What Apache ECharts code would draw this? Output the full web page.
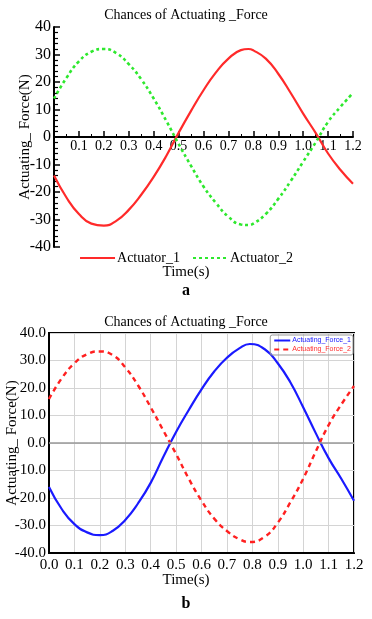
<!DOCTYPE html>
<html><head><meta charset="utf-8">
<script src="https://cdn.jsdelivr.net/npm/echarts@6/dist/echarts.min.js"></script>
<style>html,body{margin:0;padding:0;background:#fff}#c{width:372px;height:619px}</style>
</head><body><div id="c"></div>
<script>
// ---- data ----
var timesA = [0,0.05,0.10,0.15,0.20,0.25,0.30,0.35,0.40,0.45,0.50,0.55,0.60,0.65,0.70,0.75,0.78,0.80,0.85,0.90,0.95,1.00,1.05,1.10,1.15,1.20];
var actuator1 = [-14,-22,-28,-31.5,-32.2,-30.5,-26.5,-21,-14.5,-7,1.5,9.5,17,23.5,28.5,31.6,32,31.5,28.5,23,16,8.5,1.5,-6,-12,-17];
var actuator2 = [14,21.5,27.5,31,32,30.5,26.5,21,14,6,-2.5,-10.5,-18,-24,-29,-31.8,-32,-31.5,-28,-22.5,-16,-9,-2,5.5,11,16];

var timesB = [0,0.05,0.10,0.15,0.20,0.25,0.30,0.35,0.40,0.45,0.50,0.55,0.60,0.65,0.70,0.75,0.79,0.85,0.90,0.95,1.00,1.05,1.10,1.15,1.20];
var force1 = [-16,-24,-29.5,-32.5,-33.5,-32,-28,-22,-14.5,-5,4,12,19.5,26,31,34.5,36,34,29,22,13,3.5,-5.5,-13,-21];
var force2 = [16,23.5,29,32.3,33.3,32,27.5,21,13,4.5,-4,-13,-21,-27.5,-32,-35,-36,-34,-29,-21.5,-13,-3,6.5,14,20.7];

var titleText = 'Chances of Actuating _Force';
var yName = 'Actuating_ Force(N)';
var xName = 'Time(s)';
var namesA = ['Actuator_1','Actuator_2'];
var namesB = ['Actuating_Force_1','Actuating_Force_2'];

function pairs(t, v){ return t.map(function(x,i){ return [x, v[i]]; }); }

var SERIF = '"Liberation Serif","DejaVu Serif",serif';
var chart = echarts.init(document.getElementById('c'));
chart.setOption({
  animation:false,
  title:[
    {text:titleText, left:'center', top:3, textStyle:{fontFamily:SERIF, fontSize:14, fontWeight:'normal', color:'#000'}},
    {text:titleText, left:'center', top:310, textStyle:{fontFamily:SERIF, fontSize:14, fontWeight:'normal', color:'#000'}}
  ],
  grid:[
    {left:54, top:27, width:299, height:220, outerBoundsMode:'none', containLabel:false},
    {left:49, top:333, width:305, height:220, outerBoundsMode:'none', containLabel:false,
     show:true, borderColor:'#000', borderWidth:2, backgroundColor:'transparent'}
  ],
  legend:[
    {data:namesA, top:246, left:'center', itemWidth:35, itemHeight:14, itemGap:12,
     itemStyle:{opacity:0},
     textStyle:{fontFamily:SERIF, fontSize:14, color:'#000', padding:[0,0,0,-3]}},
    {data:[{name:namesB[0], textStyle:{color:'#2020ff'}},{name:namesB[1], textStyle:{color:'#ff3030'}}],
     orient:'vertical', right:19, top:335, itemWidth:16, itemHeight:7, itemGap:2, padding:[2,2,2,3],
     itemStyle:{opacity:0},
     borderColor:'#999', borderWidth:1, borderRadius:2,
     textStyle:{fontFamily:'"Liberation Sans",Arial,sans-serif', fontSize:7, padding:[0,0,0,-3]}}
  ],
  xAxis:[
    {gridIndex:0, type:'value', min:0, max:1.2, interval:0.1, position:'bottom', offset:-110,
     axisLine:{onZero:false, lineStyle:{color:'#000', width:2}},
     axisTick:{inside:true, length:6, lineStyle:{color:'#000', width:1.5}},
     minorTick:{show:true, splitNumber:2, length:3, lineStyle:{color:'#000'}},
     splitLine:{show:false},
     axisLabel:{margin:2, fontFamily:SERIF, fontSize:14, color:'#000',
       formatter:function(v){ return v===0 ? '' : v.toFixed(1); }}},
    {gridIndex:1, type:'value', min:0, max:1.2, interval:0.1,
     axisLine:{onZero:false, lineStyle:{color:'#000', width:2}},
     axisTick:{show:false},
     splitLine:{show:true, lineStyle:{color:'#d4d4d4', width:1}},
     axisLabel:{margin:5, fontFamily:SERIF, fontSize:15, color:'#000',
       formatter:function(v){ return v.toFixed(1); }}}
  ],
  yAxis:[
    {gridIndex:0, type:'value', min:-40, max:40, interval:10,
     name:yName, nameLocation:'middle', nameGap:21, nameMoveOverlap:false,
     nameTextStyle:{fontFamily:SERIF, fontSize:15, color:'#000'},
     axisLine:{onZero:false, lineStyle:{color:'#000', width:2}},
     axisTick:{inside:true, length:6, lineStyle:{color:'#000', width:1.5}},
     minorTick:{show:true, splitNumber:5, length:4, lineStyle:{color:'#000', width:1.2}},
     splitLine:{show:false},
     axisLabel:{margin:3, fontFamily:SERIF, fontSize:16, color:'#000'}},
    {gridIndex:1, type:'value', min:-40, max:40, interval:10,
     name:yName, nameLocation:'middle', nameGap:29, nameMoveOverlap:false,
     nameTextStyle:{fontFamily:SERIF, fontSize:15, color:'#000'},
     axisLine:{onZero:false, lineStyle:{color:'#000', width:2}},
     axisTick:{show:false},
     splitLine:{show:true, lineStyle:{color:'#d4d4d4', width:1}},
     axisLabel:{margin:3, fontFamily:SERIF, fontSize:15, color:'#000',
       formatter:function(v){ return v.toFixed(1); }}}
  ],
  series:[
    {name:namesA[0], type:'line', xAxisIndex:0, yAxisIndex:0, data:pairs(timesA, actuator1),
     smooth:true, symbol:'none', lineStyle:{color:'#ff2a2a', width:2.2}, itemStyle:{color:'#ff2a2a'}},
    {name:namesA[1], type:'line', xAxisIndex:0, yAxisIndex:0, data:pairs(timesA, actuator2),
     smooth:true, symbol:'none', lineStyle:{color:'#2ee82e', width:2.6, type:[3,3]}, itemStyle:{color:'#2ee82e'}},
    {name:namesB[0], type:'line', xAxisIndex:1, yAxisIndex:1, data:pairs(timesB, force1),
     smooth:true, symbol:'none', lineStyle:{color:'#1a1aff', width:2.2}, itemStyle:{color:'#1a1aff'},
     markLine:{silent:true, symbol:'none', label:{show:false}, lineStyle:{color:'#999', width:1.5, type:'solid'}, data:[{yAxis:0}]}},
    {name:namesB[1], type:'line', xAxisIndex:1, yAxisIndex:1, data:pairs(timesB, force2),
     smooth:true, symbol:'none', lineStyle:{color:'#ff2020', width:2.4, type:[5,4]}, itemStyle:{color:'#ff2020'}}
  ],
  graphic:[
    {type:'text', left:'center', top:265, style:{text:xName, font:'15px '+SERIF, fill:'#000'}},
    {type:'text', left:'center', top:283, style:{text:'a', font:'bold 16px '+SERIF, fill:'#000'}},
    {type:'text', left:'center', top:573, style:{text:xName, font:'15px '+SERIF, fill:'#000'}},
    {type:'text', left:'center', top:596, style:{text:'b', font:'bold 16px '+SERIF, fill:'#000'}}
  ]
});
</script></body></html>
